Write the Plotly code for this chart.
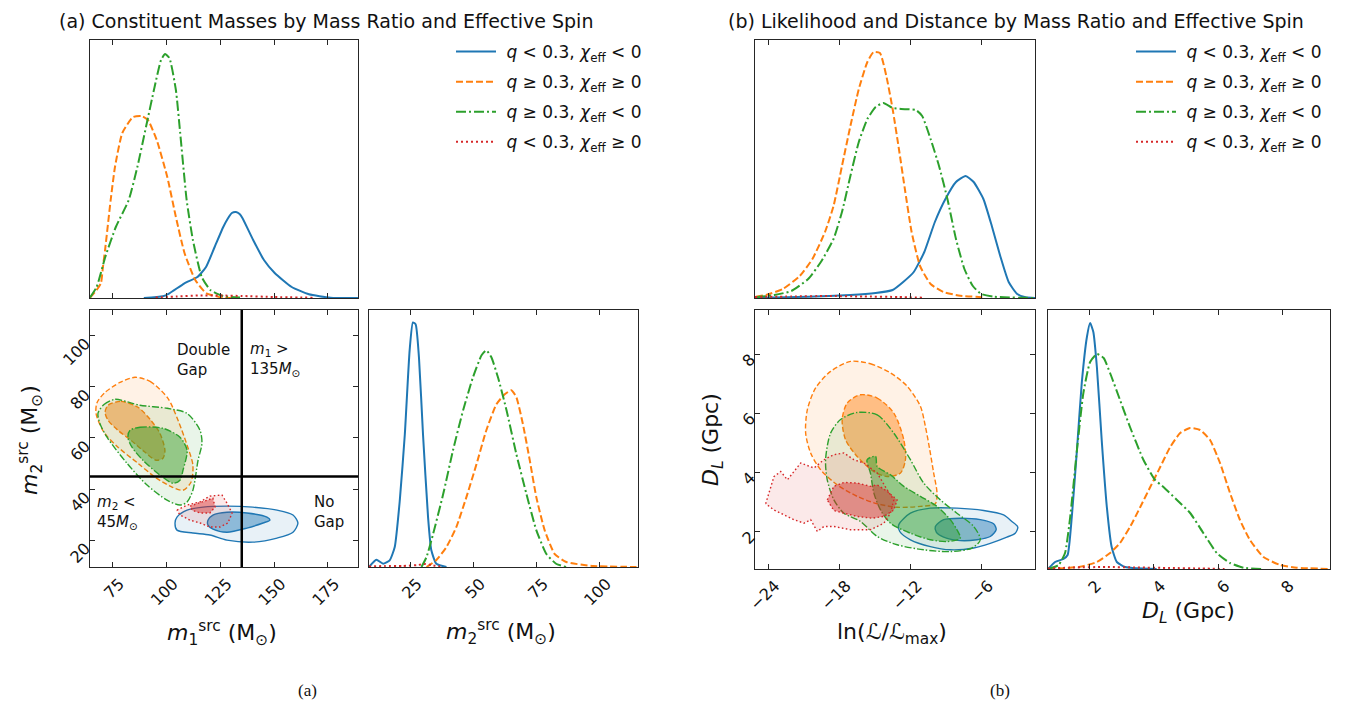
import plotly.graph_objects as go

# Page body adds an 8px margin at the top-left, so the figure is shifted to compensate
OFF = 8
FW, FH = 1346 - OFF, 704 - OFF
FONT = "DejaVu Sans"

# ---------------- colours ----------------
BLUE = (31, 119, 180)
ORANGE = (255, 127, 14)
GREEN = (44, 160, 44)
RED = (214, 39, 40)

LABELS = [
    "&nbsp;<i>q</i> < 0.3, <i>χ</i><sub>eff</sub> < 0",
    "&nbsp;<i>q</i> ≥ 0.3, <i>χ</i><sub>eff</sub> ≥ 0",
    "&nbsp;<i>q</i> ≥ 0.3, <i>χ</i><sub>eff</sub> < 0",
    "&nbsp;<i>q</i> < 0.3, <i>χ</i><sub>eff</sub> ≥ 0",
]

# ================= Panel (a): marginal of m1 =================
blue_m1_x = [89.5, 98.4, 101.4, 108.4, 114.4, 118.4, 122.4, 126.4, 128.4, 130.4, 132.3, 134.0, 135.3, 140.3, 145.3, 150.3, 158.2, 166.2, 176.2, 189]
blue_m1_y = [0, 1.7, 4.7, 14.7, 21, 31, 51, 71, 79, 85, 86, 84, 80, 58, 38, 25, 11, 3.7, 0.3, 0]
orange_m1_x = [64.5, 67.6, 69.6, 70.5, 71.5, 74.1, 76.1, 79.5, 84.5, 88.5, 91.4, 95.5, 100.4, 104.4, 108.4, 113.4, 118.4, 126.3, 134.2]
orange_m1_y = [0.3, 8, 15, 31, 48, 98, 131, 165, 181, 182, 178, 158, 121, 81, 45, 18, 5, 0.3, 0]
green_m1_x = [64.5, 67.6, 71.6, 76.5, 82.5, 86.5, 90.5, 94.5, 97.5, 99.4, 101.4, 104.4, 106.4, 109.4, 112.3, 116.4, 120.4, 126.3, 134.2]
green_m1_y = [0.5, 11, 41, 71, 98, 131, 171, 211, 238, 244, 240, 208, 165, 98, 58, 21, 8, 2, 0.5]
red_m1_x = [95, 105, 115, 125, 135, 150, 168]
red_m1_y = [0.5, 1.5, 2.5, 2.5, 2, 1, 0.3]

# ================= Panel (a): marginal of m2 =================
blue_m2_x = [8.6, 11.5, 14.2, 16.8, 18.8, 20.8, 22.8, 24.7, 26.0, 27.1, 28.4, 30.0, 32.0, 33.3, 35.3, 39.3]
blue_m2_y = [0, 7.3, 3.3, 6.7, 20, 66.7, 133, 217, 245, 243, 210, 133, 50, 16.7, 3.3, 0]
orange_m2_x = [31.4, 35.3, 39.3, 43.2, 47.2, 51.2, 55.1, 59.1, 62.4, 65.0, 67.0, 69.6, 72.3, 74.9, 78.2, 82.2, 86.8, 97.4, 114.6]
orange_m2_y = [0, 7, 20, 40, 70, 103, 137, 163, 173, 177, 170, 143, 107, 70, 37, 13, 5, 1, 0]
green_m2_x = [29.4, 31.4, 34.0, 38.0, 41.9, 45.9, 49.8, 53.2, 55.1, 57.1, 59.7, 63.1, 67.0, 71.0, 74.9, 78.9, 82.9, 86.8]
green_m2_y = [0, 10, 33, 73, 117, 157, 190, 212, 217, 210, 190, 157, 113, 73, 37, 13, 3, 0]
red_m2_x = [8.6, 15, 22, 28, 31, 34, 38]
red_m2_y = [0.5, 1, 1, 2, 3, 1.5, 0]

# ================= Panel (a): joint credible regions (m1, m2) =================
blue_a_outer_m1 = [104.0, 104.9, 109.6, 117.0, 128.1, 140.2, 151.4, 158.8, 161.1, 158.8, 151.4, 140.2, 128.1, 120.2, 112.3, 104.9]
blue_a_outer_m2 = [26.8, 29.1, 31.8, 33.0, 33.4, 33.0, 31.8, 29.9, 26.8, 23.2, 20.9, 19.3, 20.1, 22.1, 22.9, 24.0]
blue_a_inner_m1 = [119.3, 121.6, 128.1, 137.4, 146.7, 148.1, 144.9, 137.4, 128.1, 121.6, 119.3]
blue_a_inner_m2 = [27.9, 29.9, 31.0, 30.7, 29.1, 27.9, 26.8, 24.8, 23.2, 24.4, 26.0]
orange_a_outer_m1 = [85.4, 92.4, 100.7, 105.4, 109.6, 112.3, 111.4, 107.7, 102.6, 94.7, 86.8, 77.5, 71.0, 67.3, 67.8, 71.5, 78.4]
orange_a_outer_m2 = [83.7, 82.1, 75.5, 66.9, 57.2, 49.4, 42.7, 39.6, 40.8, 44.7, 50.1, 56.4, 62.2, 69.6, 73.9, 77.8, 81.7]
orange_a_inner_m1 = [72.9, 78.9, 86.8, 92.8, 97.0, 99.3, 98.4, 95.2, 90.1, 83.5, 77.5, 72.9, 71.5]
orange_a_inner_m2 = [72.8, 74.3, 72.0, 66.9, 61.8, 55.2, 52.1, 51.3, 54.4, 59.1, 63.0, 66.9, 70.0]
green_a_outer_m1 = [68.2, 71.0, 76.1, 87.7, 100.3, 109.6, 115.6, 116.5, 114.7, 112.3, 109.6, 106.3, 100.3, 91.0, 81.7, 72.4, 69.1]
green_a_outer_m2 = [69.6, 73.1, 75.1, 72.8, 71.6, 69.6, 63.0, 57.9, 51.3, 39.6, 35.0, 33.8, 35.7, 41.6, 50.1, 60.3, 65.7]
green_a_inner_m1 = [83.1, 87.7, 98.4, 106.3, 109.6, 107.7, 106.3, 103.1, 97.0, 89.1, 84.0, 82.1]
green_a_inner_m2 = [63.0, 64.2, 63.8, 60.3, 55.2, 47.4, 43.5, 42.3, 45.5, 51.3, 56.4, 60.3]
red_a_outer_m1 = [104.9, 109.6, 115.6, 120.2, 125.8, 128.1, 130.5, 128.6, 124.9, 120.2, 115.6, 111.0, 106.3]
red_a_outer_m2 = [31.8, 33.8, 35.0, 37.3, 37.7, 34.6, 30.7, 26.8, 25.2, 25.2, 26.8, 27.9, 29.9]
red_a_inner_m1 = [111.0, 117.0, 121.6, 122.6, 120.2, 115.6, 111.9]
red_a_inner_m2 = [33.4, 35.3, 36.5, 33.0, 30.7, 30.7, 31.8]

M1_GAP = 135
M2_GAP = 45

# ================= Panel (b): marginal of ln(L/Lmax) =================
blue_lnl_x = [-25.1, -20.62, -17.06, -14.93, -13.5, -12.61, -11.72, -10.83, -9.94, -9.05, -8.16, -7.35, -6.67, -5.85, -5.14, -4.43, -3.72, -3.0, -2.29, -1.5]
blue_lnl_y = [0, 1.3, 3, 5, 8, 16, 26, 46, 76, 99, 116, 122, 116, 99, 72, 42, 16, 4, 0.7, 0]
orange_lnl_x = [-25.03, -24.18, -22.75, -21.33, -20.26, -19.2, -18.48, -17.77, -17.06, -16.35, -15.63, -15.1, -14.57, -14.03, -13.5, -12.97, -12.43, -11.9, -11.19, -10.3, -9.23, -7.8, -5.67]
orange_lnl_y = [1.3, 3, 9, 22, 39, 66, 92, 132, 172, 209, 236, 246, 245, 222, 189, 149, 106, 66, 32, 14, 6, 2.3, 0.7]
green_lnl_x = [-25.03, -23.47, -22.04, -20.62, -19.55, -18.48, -17.77, -17.06, -16.35, -15.63, -14.93, -14.28, -13.5, -12.79, -11.54, -11.01, -10.3, -9.59, -8.88, -8.16, -7.45, -6.74, -6.03, -4.96, -1.5]
green_lnl_y = [0.7, 3, 7, 19, 36, 59, 86, 122, 156, 179, 191, 195, 190, 189, 188, 182, 159, 132, 99, 59, 29, 12, 4, 1.3, 0]
red_lnl_x = [-25.1, -22, -19, -16, -13, -11]
red_lnl_y = [1, 1.5, 2, 1.5, 1, 0.3]

# ================= Panel (b): marginal of D_L =================
blue_dl_x = [0.71, 0.93, 1.19, 1.32, 1.45, 1.61, 1.76, 1.92, 2.02, 2.12, 2.23, 2.38, 2.54, 2.69, 2.85, 3.11, 3.47, 4.09]
blue_dl_y = [0, 7, 10, 14, 52, 119, 186, 232, 246, 237, 202, 129, 62, 22, 7, 2, 0.7, 0]
orange_dl_x = [0.71, 1.19, 1.71, 2.23, 2.64, 2.95, 3.26, 3.58, 3.89, 4.20, 4.51, 4.82, 5.13, 5.44, 5.75, 6.06, 6.37, 6.68, 6.99, 7.41, 7.93, 8.45, 9.48]
orange_dl_y = [0, 0.7, 2.3, 7, 16, 26, 42, 62, 82, 102, 122, 136, 141, 139, 129, 106, 76, 49, 29, 12, 4, 1.3, 0]
green_dl_x = [0.71, 1.04, 1.24, 1.40, 1.61, 1.81, 2.02, 2.23, 2.44, 2.64, 2.95, 3.26, 3.68, 4.04, 4.30, 4.72, 5.13, 5.54, 5.96, 6.37, 6.79, 7.41]
green_dl_y = [0, 4, 16, 52, 119, 176, 207, 215, 211, 196, 169, 142, 109, 89, 82, 69, 56, 36, 16, 6, 1.3, 0]
red_dl_x = [0.71, 1.5, 2.5, 3.5, 4.5, 5.5, 6.2]
red_dl_y = [0.5, 1.5, 2, 1.5, 1, 0.5, 0]

# ================= Panel (b): joint credible regions (lnL, D_L) =================
blue_b_outer_l = [-12.98, -12.00, -10.32, -8.08, -5.83, -4.15, -3.45, -2.95, -3.17, -3.87, -5.27, -6.67, -8.64, -10.32, -12.00, -12.90]
blue_b_outer_d = [2.23, 2.62, 2.79, 2.79, 2.71, 2.56, 2.34, 2.15, 1.94, 1.81, 1.60, 1.44, 1.38, 1.49, 1.72, 2.00]
blue_b_inner_l = [-9.90, -9.20, -7.80, -6.11, -4.99, -4.77, -5.27, -6.39, -7.80, -9.20, -9.81]
blue_b_inner_d = [2.17, 2.40, 2.45, 2.40, 2.26, 2.06, 1.83, 1.72, 1.69, 1.81, 1.97]
orange_b_outer_l = [-17.05, -15.37, -13.68, -12.28, -11.16, -10.74, -10.37, -10.04, -9.76, -9.90, -11.16, -13.12, -14.80, -16.49, -18.17, -19.57, -20.41, -20.83, -20.69, -19.99, -18.73]
orange_b_outer_d = [7.76, 7.68, 7.37, 6.92, 6.24, 5.56, 4.77, 3.98, 3.30, 2.94, 2.85, 2.82, 2.94, 3.19, 3.58, 4.09, 4.66, 5.33, 6.12, 6.86, 7.42]
orange_b_inner_l = [-16.21, -14.80, -13.40, -12.56, -12.42, -12.84, -13.96, -15.08, -16.49, -17.47, -17.75, -17.33]
orange_b_inner_d = [6.63, 6.52, 6.01, 5.11, 4.43, 3.98, 3.86, 4.03, 4.54, 5.11, 5.79, 6.35]
green_b_outer_l = [-16.49, -14.80, -13.40, -12.00, -10.88, -9.48, -8.08, -6.67, -6.11, -6.81, -8.64, -10.88, -13.12, -14.80, -16.21, -17.61, -18.45, -19.01, -19.15, -18.73, -17.89]
green_b_outer_d = [6.03, 5.95, 5.33, 4.43, 3.64, 3.07, 2.62, 2.17, 1.72, 1.44, 1.32, 1.38, 1.55, 1.83, 2.34, 2.62, 3.07, 3.75, 4.43, 5.33, 5.79]
green_b_inner_l = [-15.65, -14.94, -14.80, -13.68, -12.56, -11.16, -9.76, -8.64, -8.08, -7.80, -8.92, -10.32, -12.00, -13.68, -14.52, -15.08, -15.37]
green_b_inner_d = [4.43, 4.54, 4.20, 3.92, 3.53, 3.19, 2.85, 2.40, 2.06, 1.77, 1.66, 1.72, 1.94, 2.28, 2.73, 3.30, 3.98]
red_b_outer_l = [-24.20, -23.92, -23.50, -22.93, -22.37, -21.25, -20.13, -19.29, -18.45, -17.61, -16.77, -15.93, -14.80, -13.96, -13.40, -13.68, -14.24, -15.37, -17.05, -18.45, -19.29, -19.85, -20.41, -20.97, -21.81, -22.93, -23.50]
red_b_outer_d = [2.94, 3.30, 3.86, 4.03, 3.75, 4.32, 4.15, 4.43, 4.60, 4.66, 4.43, 4.32, 3.98, 3.41, 3.07, 2.62, 2.28, 2.06, 2.06, 2.17, 2.17, 2.00, 2.40, 2.28, 2.40, 2.62, 2.73]
red_b_inner_l = [-19.01, -18.45, -17.61, -16.49, -15.37, -14.80, -13.96, -13.12, -13.40, -14.24, -15.23, -16.49, -17.61, -18.45]
red_b_inner_d = [3.07, 3.53, 3.66, 3.64, 3.53, 3.58, 3.36, 3.07, 2.73, 2.51, 2.45, 2.51, 2.62, 2.71]

# ---------------- ticks ----------------
m1_ticks = [75, 100, 125, 150, 175]
m2_ticks = [20, 40, 60, 80, 100]
m2_marg_ticks = [25, 50, 75, 100]
lnl_ticks = [-24, -18, -12, -6]
lnl_ticktext = ["−24", "−18", "−12", "−6"]
dl_ticks = [2, 4, 6, 8]

fig = go.Figure()


def rgba(c, a):
    return "rgba(%d,%d,%d,%s)" % (c[0], c[1], c[2], a)


MARG_DASH = {"solid": "solid", "dash": "7px,3px", "dashdot": "10px,3px,2px,3px", "dot": "2px,3px"}
CONT_DASH = {"solid": "solid", "dash": "5px,2.5px", "dashdot": "7px,2px,1.5px,2px", "dot": "1.6px,2.4px"}


def marg(x, y, col, dash, xa, ya, name, legend, show, group):
    fig.add_trace(go.Scatter(
        x=x, y=y, mode="lines", name=name, legend=legend, showlegend=show,
        legendgroup=group,
        line=dict(color=rgba(col, 1), width=2, dash=MARG_DASH[dash], shape="spline", smoothing=0.5),
        xaxis=xa, yaxis=ya, hoverinfo="skip"))


def region(x, y, col, alpha, dash, xa, ya, shape="spline"):
    fig.add_trace(go.Scatter(
        x=list(x) + [x[0]], y=list(y) + [y[0]], mode="lines", fill="toself",
        fillcolor=rgba(col, alpha), showlegend=False,
        line=dict(color=rgba(col, 1), width=1.4, dash=CONT_DASH[dash], shape=shape, smoothing=0.8),
        xaxis=xa, yaxis=ya, hoverinfo="skip"))


OUT_A, IN_A = 0.1, 0.45

# ---- panel (a) ----
marg(blue_m1_x, blue_m1_y, BLUE, "solid", "x", "y", LABELS[0], "legend", True, "a0")
marg(orange_m1_x, orange_m1_y, ORANGE, "dash", "x", "y", LABELS[1], "legend", True, "a1")
marg(green_m1_x, green_m1_y, GREEN, "dashdot", "x", "y", LABELS[2], "legend", True, "a2")
marg(red_m1_x, red_m1_y, RED, "dot", "x", "y", LABELS[3], "legend", True, "a3")

region(blue_a_outer_m1, blue_a_outer_m2, BLUE, OUT_A, "solid", "x2", "y2")
region(blue_a_inner_m1, blue_a_inner_m2, BLUE, IN_A, "solid", "x2", "y2")
region(orange_a_outer_m1, orange_a_outer_m2, ORANGE, OUT_A, "dash", "x2", "y2")
region(orange_a_inner_m1, orange_a_inner_m2, ORANGE, IN_A, "dash", "x2", "y2")
region(green_a_outer_m1, green_a_outer_m2, GREEN, OUT_A, "dashdot", "x2", "y2")
region(green_a_inner_m1, green_a_inner_m2, GREEN, IN_A, "dashdot", "x2", "y2")
region(red_a_outer_m1, red_a_outer_m2, RED, OUT_A, "dot", "x2", "y2", "linear")
region(red_a_inner_m1, red_a_inner_m2, RED, IN_A, "dot", "x2", "y2", "linear")

marg(blue_m2_x, blue_m2_y, BLUE, "solid", "x3", "y3", LABELS[0], "legend", False, "a0")
marg(orange_m2_x, orange_m2_y, ORANGE, "dash", "x3", "y3", LABELS[1], "legend", False, "a1")
marg(green_m2_x, green_m2_y, GREEN, "dashdot", "x3", "y3", LABELS[2], "legend", False, "a2")
marg(red_m2_x, red_m2_y, RED, "dot", "x3", "y3", LABELS[3], "legend", False, "a3")

# ---- panel (b) ----
marg(blue_lnl_x, blue_lnl_y, BLUE, "solid", "x4", "y4", LABELS[0], "legend2", True, "b0")
marg(orange_lnl_x, orange_lnl_y, ORANGE, "dash", "x4", "y4", LABELS[1], "legend2", True, "b1")
marg(green_lnl_x, green_lnl_y, GREEN, "dashdot", "x4", "y4", LABELS[2], "legend2", True, "b2")
marg(red_lnl_x, red_lnl_y, RED, "dot", "x4", "y4", LABELS[3], "legend2", True, "b3")

region(blue_b_outer_l, blue_b_outer_d, BLUE, OUT_A, "solid", "x5", "y5")
region(blue_b_inner_l, blue_b_inner_d, BLUE, IN_A, "solid", "x5", "y5")
region(orange_b_outer_l, orange_b_outer_d, ORANGE, OUT_A, "dash", "x5", "y5")
region(orange_b_inner_l, orange_b_inner_d, ORANGE, IN_A, "dash", "x5", "y5")
region(green_b_outer_l, green_b_outer_d, GREEN, OUT_A, "dashdot", "x5", "y5")
region(green_b_inner_l, green_b_inner_d, GREEN, IN_A, "dashdot", "x5", "y5")
region(red_b_outer_l, red_b_outer_d, RED, OUT_A, "dot", "x5", "y5", "linear")
region(red_b_inner_l, red_b_inner_d, RED, IN_A, "dot", "x5", "y5", "linear")

marg(blue_dl_x, blue_dl_y, BLUE, "solid", "x6", "y6", LABELS[0], "legend2", False, "b0")
marg(orange_dl_x, orange_dl_y, ORANGE, "dash", "x6", "y6", LABELS[1], "legend2", False, "b1")
marg(green_dl_x, green_dl_y, GREEN, "dashdot", "x6", "y6", LABELS[2], "legend2", False, "b2")
marg(red_dl_x, red_dl_y, RED, "dot", "x6", "y6", LABELS[3], "legend2", False, "b3")


# ---------------- layout (window pixel -> paper fraction) ----------------
def fx(p):
    return (p - OFF) / FW


def fy(p):
    return 1 - (p - OFF) / FH


def dx(a, b):
    return [fx(a), fx(b)]


def dy(top, bottom):
    return [fy(bottom), fy(top)]


LINE = "#262626"


def ax(domain, rng, anchor, tickvals=None, ticktext=None, labels=True, ticks=True, shift=0):
    d = dict(domain=domain, range=rng, anchor=anchor, showgrid=False, zeroline=False,
             showline=True, linecolor=LINE, linewidth=1.3, mirror=True, automargin=False,
             tickfont=dict(family=FONT, size=16, color="#111"), fixedrange=True)
    if ticks and tickvals is not None:
        d.update(tickmode="array", tickvals=tickvals, ticks="inside", ticklen=5,
                 tickwidth=1.2, tickcolor=LINE, mirror="ticks", showticklabels=labels,
                 tickangle=-45, ticklabelshift=shift)
        if ticktext is not None:
            d["ticktext"] = ticktext
    else:
        d.update(ticks="", showticklabels=False)
    return d


leg = dict(xanchor="left", yanchor="top",
           font=dict(family=FONT, size=17, color="#111"), bgcolor="rgba(0,0,0,0)",
           itemwidth=40, tracegroupgap=5, traceorder="grouped")

XS, YS = 7, 6  # tick-label shifts so rotated labels sit centred on their ticks

layout = dict(
    template="none",
    width=FW, height=FH, autosize=False, margin=dict(l=0, r=0, t=0, b=0, pad=0, autoexpand=False),
    paper_bgcolor="white", plot_bgcolor="white",
    font=dict(family=FONT, color="#111"),
    xaxis=ax(dx(90, 358), [64.5, 189], "y", m1_ticks, labels=False),
    yaxis=ax(dy(40, 298), [0, 258], "x", ticks=False),
    xaxis2=ax(dx(90, 358), [64.5, 189], "y2", m1_ticks, shift=XS),
    yaxis2=ax(dy(310, 567), [9.6, 110], "x2", m2_ticks, shift=YS),
    xaxis3=ax(dx(369, 638), [8.6, 115.2], "y3", m2_marg_ticks, shift=XS),
    yaxis3=ax(dy(310, 567), [0, 257.4], "x3", ticks=False),
    xaxis4=ax(dx(755, 1035), [-25.1, -1.5], "y4", lnl_ticks, labels=False),
    yaxis4=ax(dy(40, 298), [0, 258], "x4", ticks=False),
    xaxis5=ax(dx(755, 1035), [-25.1, -1.5], "y5", lnl_ticks, lnl_ticktext, shift=XS),
    yaxis5=ax(dy(310, 569), [0.73, 9.5], "x5", dl_ticks, shift=3),
    xaxis6=ax(dx(1048, 1330), [0.71, 9.48], "y6", dl_ticks, shift=XS),
    yaxis6=ax(dy(310, 569), [0, 259], "x6", ticks=False),
    legend=dict(x=fx(451), y=fy(34), **leg),
    legend2=dict(x=fx(1131), y=fy(34), **leg),
)
fig.update_layout(**layout)

# threshold lines in panel (a)
fig.add_shape(type="line", xref="x2", yref="y2 domain", x0=M1_GAP, x1=M1_GAP, y0=0, y1=1,
              line=dict(color="black", width=2.5))
fig.add_shape(type="line", xref="x2 domain", yref="y2", x0=0, x1=1, y0=M2_GAP, y1=M2_GAP,
              line=dict(color="black", width=2.5))

ann = []


def txt(text, x, y, xref="paper", yref="paper", size=15, xanchor="left", yanchor="middle",
        angle=0, family=FONT):
    ann.append(dict(text=text, x=x, y=y, xref=xref, yref=yref, showarrow=False,
                    font=dict(family=family, size=size, color="#111"),
                    xanchor=xanchor, yanchor=yanchor, textangle=angle, align="left"))


# region labels in panel (a)
txt("Double<br>Gap", 104.0, 90.5, "x2", "y2")
txt("<i>m</i><sub>1</sub> ><br>135<i>M</i><sub>⊙</sub>", 137.9, 90.5, "x2", "y2")
txt("<i>m</i><sub>2</sub> <<br>45<i>M</i><sub>⊙</sub>", 66.8, 31.0, "x2", "y2")
txt("No<br>Gap", 167.6, 31.0, "x2", "y2")

# titles
txt("(a) Constituent Masses by Mass Ratio and Effective Spin", fx(326), fy(8), size=19,
    xanchor="center", yanchor="top")
txt("(b) Likelihood and Distance by Mass Ratio and Effective Spin", fx(1016), fy(8), size=19,
    xanchor="center", yanchor="top")

# axis titles
XT = 22
txt("<i>m</i><sub>1</sub><sup>src</sup> (M<sub>⊙</sub>)", fx(222), fy(633), size=XT, xanchor="center")
txt("<i>m</i><sub>2</sub><sup>src</sup> (M<sub>⊙</sub>)", fx(501), fy(632), size=XT, xanchor="center")
txt("<i>m</i><sub>2</sub><sup>src</sup> (M<sub>⊙</sub>)", fx(30), fy(440), size=XT, xanchor="center", angle=-90)
txt("ln(ℒ/ℒ<sub>max</sub>)", fx(892), fy(633), size=XT, xanchor="center")
txt("<i>D<sub>L</sub></i> (Gpc)", fx(712), fy(440), size=XT, xanchor="center", angle=-90)
txt("<i>D<sub>L</sub></i> (Gpc)", fx(1188), fy(612), size=XT, xanchor="center")

# captions
txt("(a)", fx(307), fy(690), size=17, xanchor="center", family="Liberation Serif")
txt("(b)", fx(1000), fy(690), size=17, xanchor="center", family="Liberation Serif")

fig.update_layout(annotations=ann)

fig.write_html("out.html")
